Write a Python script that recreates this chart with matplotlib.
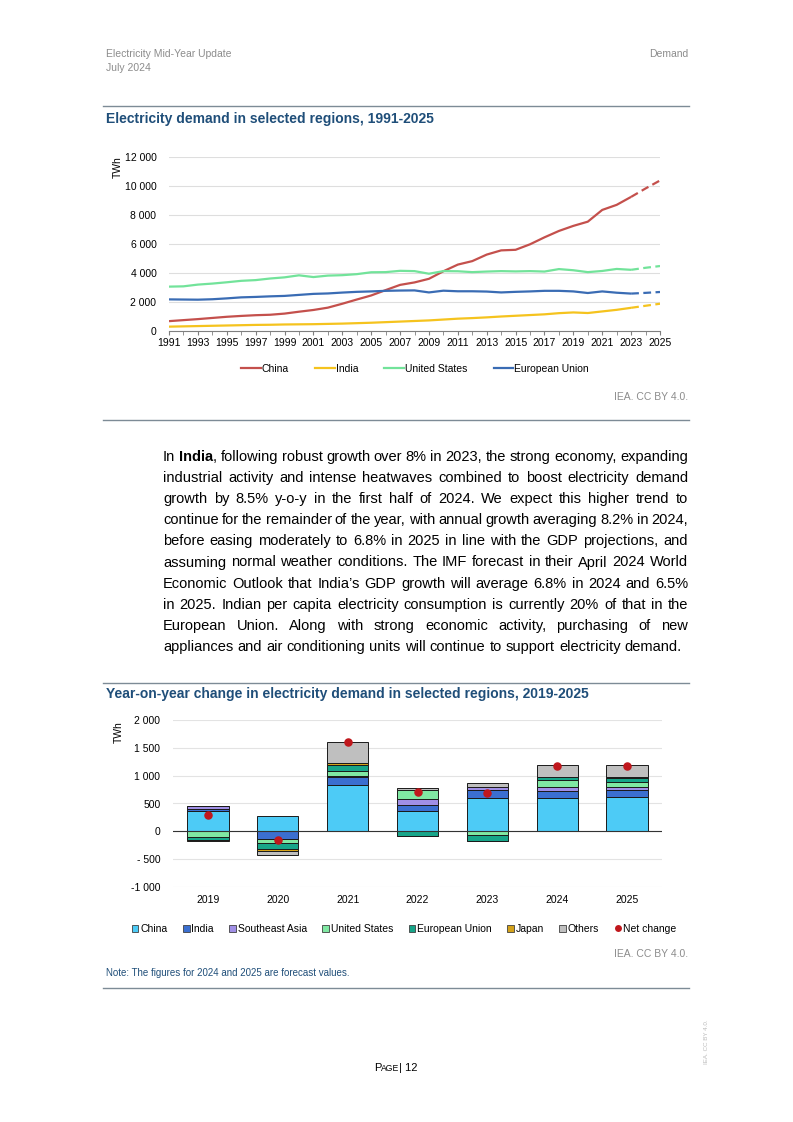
import matplotlib.pyplot as plt
from matplotlib.lines import Line2D
from matplotlib.patches import Patch
import numpy as np

plt.rcParams["font.family"] = ["Liberation Sans", "DejaVu Sans"]

W, H = 793, 1122

# --- top chart data (TWh) ---
years = list(range(1991, 2026))
china = [680, 750, 820, 900, 980, 1040, 1090, 1120, 1200, 1330,
         1450, 1610, 1880, 2170, 2450, 2820, 3180, 3350, 3600, 4120,
         4580, 4820, 5270, 5560, 5600, 5980, 6460, 6900, 7250, 7540,
         8350, 8700, 9250, 9830, 10380]
india = [300, 320, 340, 360, 380, 400, 420, 430, 450, 460,
         470, 490, 510, 540, 570, 610, 650, 690, 730, 790,
         850, 890, 940, 1000, 1050, 1100, 1150, 1230, 1280, 1240,
         1350, 1460, 1600, 1740, 1880]
united_states = [3060, 3080, 3200, 3270, 3360, 3460, 3510, 3620, 3700, 3840,
                 3720, 3820, 3850, 3920, 4050, 4060, 4150, 4130, 3950, 4130,
                 4120, 4060, 4100, 4130, 4110, 4130, 4100, 4270, 4190, 4060,
                 4140, 4280, 4220, 4360, 4480]
european_union = [2180, 2170, 2160, 2190, 2250, 2320, 2350, 2390, 2420, 2490,
                  2560, 2590, 2650, 2700, 2730, 2770, 2790, 2800, 2660, 2780,
                  2740, 2740, 2720, 2660, 2700, 2730, 2770, 2770, 2730, 2620,
                  2730, 2640, 2580, 2630, 2690]
forecast_start = 2023

# --- bottom chart data (TWh change) ---
bar_years = ["2019", "2020", "2021", "2022", "2023", "2024", "2025"]
chg_china = [360, 270, 825, 370, 600, 600, 615]
chg_india = [50, -130, 145, 105, 145, 130, 130]
chg_sea = [40, -10, 30, 110, 50, 60, 60]
chg_us = [-100, -70, 75, 160, -60, 135, 75]
chg_eu = [-50, -110, 110, -75, -110, 50, 80]
chg_japan = [-25, -30, 40, -10, -10, 10, 15]
chg_others = [10, -80, 375, 40, 70, 200, 215]
net_change = [290, -150, 1600, 715, 680, 1180, 1180]

paragraph = [
    "In **India**, following robust growth over 8% in 2023, the strong economy, expanding",
    "industrial activity and intense heatwaves combined to boost electricity demand",
    "growth by 8.5% y-o-y in the first half of 2024. We expect this higher trend to",
    "continue for the remainder of the year, with annual growth averaging 8.2% in 2024,",
    "before easing moderately to 6.8% in 2025 in line with the GDP projections, and",
    "assuming normal weather conditions. The IMF forecast in their April 2024 World",
    "Economic Outlook that India\u2019s GDP growth will average 6.8% in 2024 and 6.5%",
    "in 2025. Indian per capita electricity consumption is currently 20% of that in the",
    "European Union. Along with strong economic activity, purchasing of new",
    "appliances and air conditioning units will continue to support electricity demand.",
]

GREY = "#8c8c8c"
NAVY = "#1f4e79"
RULE = "#7d8b96"


def fx(x):
    return x / W


def fy(y):
    return 1 - y / H


def add_axes_px(fig, left, top, right, bottom):
    return fig.add_axes([fx(left), fy(bottom), (right - left) / W, (bottom - top) / H])


def rule(fig, y):
    fig.add_artist(Line2D([fx(103), fx(689)], [fy(y), fy(y)], color=RULE, lw=1.0))


def justified_text(fig, lines, x0, x1, y0, dy, size):
    renderer = fig.canvas.get_renderer()
    space = fig.text(0, 0, "a a", fontsize=size).get_window_extent(renderer).width - \
        fig.text(0, 0, "aa", fontsize=size).get_window_extent(renderer).width
    for t in list(fig.texts[-2:]):
        t.remove()
    for i, line in enumerate(lines):
        y = fy(y0 + i * dy)
        words = []
        for word in line.split(" "):
            parts = word.split("**")
            pieces = [(p, "bold" if k % 2 else "normal") for k, p in enumerate(parts) if p]
            words.append(pieces)
        items = []
        total = 0
        for pieces in words:
            arts = []
            wsum = 0
            for txt, weight in pieces:
                t = fig.text(0, y, txt, fontsize=size, fontweight=weight,
                             va="center", ha="left", color="black")
                w = t.get_window_extent(renderer).width
                arts.append((t, w))
                wsum += w
            items.append(arts)
            total += wsum
        last = i == len(lines) - 1
        gap = space if last else (x1 - x0 - total) / (len(items) - 1)
        x = x0
        for arts in items:
            for t, w in arts:
                t.set_x(fx(x))
                x += w
            x += gap


fig = plt.figure(figsize=(W / 100, H / 100), dpi=100)
fig.patch.set_facecolor("white")

# header
fig.text(fx(106), fy(54), "Electricity Mid-Year Update", fontsize=7.5, color=GREY, va="center")
fig.text(fx(106), fy(68), "July 2024", fontsize=7.5, color=GREY, va="center")
fig.text(fx(688), fy(54), "Demand", fontsize=7.5, color=GREY, va="center", ha="right")

# ---------------- top chart ----------------
rule(fig, 106)
fig.text(fx(106), fy(119), "Electricity demand in selected regions, 1991-2025",
         fontsize=10, fontweight="bold", color=NAVY, va="center")

ax1 = add_axes_px(fig, 169, 157, 660, 331)
series = [
    ("China", china, "#c4504c"),
    ("India", india, "#f5c31e"),
    ("United States", united_states, "#72e39a"),
    ("European Union", european_union, "#3a6cb4"),
]
yrs = np.array(years)
split = years.index(forecast_start)
handles = []
for name, vals, col in series:
    v = np.array(vals)
    ax1.plot(yrs[:split + 1], v[:split + 1], color=col, lw=1.6, solid_capstyle="butt")
    ax1.plot(yrs[split:], v[split:], color=col, lw=1.6, ls=(0, (3.5, 2)))
    handles.append(Line2D([0], [0], color=col, lw=1.6, label=name))

ax1.set_xlim(1991, 2025)
ax1.set_ylim(0, 12000)
ax1.set_yticks(range(0, 12001, 2000))
ax1.set_yticklabels([f"{v:,}".replace(",", " ") for v in range(0, 12001, 2000)])
ax1.set_xticks(range(1991, 2026, 2))
ax1.set_xticks(range(1991, 2026), minor=True)
ax1.grid(axis="y", color="#dedede", lw=0.8)
ax1.set_axisbelow(True)
for s in ["top", "right", "left"]:
    ax1.spines[s].set_visible(False)
ax1.spines["bottom"].set_color("#7f7f7f")
ax1.tick_params(axis="y", length=0, labelsize=7.5, pad=9)
ax1.tick_params(axis="x", which="both", length=3, color="#7f7f7f", labelsize=7.5, pad=2)
ax1.set_ylabel("TWh", fontsize=7.5)
ax1.yaxis.set_label_coords(-0.095, 0.94)

fig.legend(handles=handles, loc="center", bbox_to_anchor=(fx(415), fy(369)), ncol=4,
           frameon=False, fontsize=7.5, handlelength=1.9, handletextpad=0.1,
           columnspacing=2.5)
fig.text(fx(688), fy(397), "IEA. CC BY 4.0.", fontsize=7.5, color=GREY, va="center", ha="right")
rule(fig, 420)

# ---------------- paragraph ----------------
justified_text(fig, paragraph, 163, 688, 457, 21.1, 10.5)

# ---------------- bottom chart ----------------
rule(fig, 683)
fig.text(fx(106), fy(694), "Year-on-year change in electricity demand in selected regions, 2019-2025",
         fontsize=10, fontweight="bold", color=NAVY, va="center")

ax2 = add_axes_px(fig, 173, 720, 662, 887)
components = [
    ("China", chg_china, "#4dcbf6"),
    ("India", chg_india, "#3b6fd0"),
    ("Southeast Asia", chg_sea, "#a08fe6"),
    ("United States", chg_us, "#80e8a3"),
    ("European Union", chg_eu, "#17a589"),
    ("Japan", chg_japan, "#d4a21a"),
    ("Others", chg_others, "#bfbfbf"),
]
x = np.arange(len(bar_years))
pos_base = np.zeros(len(x))
neg_base = np.zeros(len(x))
leg2 = []
for name, vals, col in components:
    v = np.array(vals, dtype=float)
    base = np.where(v >= 0, pos_base, neg_base)
    ax2.bar(x, v, 0.59, bottom=base, color=col, edgecolor="#1a1a1a", linewidth=0.7, zorder=3)
    pos_base += np.clip(v, 0, None)
    neg_base += np.clip(v, None, 0)
    leg2.append(Patch(facecolor=col, edgecolor="#404040", linewidth=0.6, label=name))
ax2.scatter(x, net_change, s=26, color="#c0171c", zorder=5)
leg2.append(Line2D([0], [0], marker="o", color="none", markerfacecolor="#c0171c",
                   markeredgecolor="none", markersize=5, label="Net change"))

ax2.axhline(0, color="#333333", lw=0.8, zorder=4)
ax2.set_xlim(-0.5, 6.5)
ax2.set_ylim(-1000, 2000)
ticks = list(range(-1000, 2001, 500))
ax2.set_yticks(ticks)
ax2.set_yticklabels([("- " if v < 0 and v > -1000 else "") +
                     f"{abs(v) if -1000 < v < 0 else v:,}".replace(",", " ") for v in ticks])
ax2.set_xticks(x)
ax2.set_xticklabels(bar_years)
ax2.grid(axis="y", color="#e3e3e3", lw=0.8)
ax2.set_axisbelow(True)
for s in ax2.spines.values():
    s.set_visible(False)
ax2.tick_params(axis="both", length=0, labelsize=7.5)
ax2.tick_params(axis="y", pad=9)
ax2.tick_params(axis="x", pad=6)
ax2.set_ylabel("TWh", fontsize=7.5)
ax2.yaxis.set_label_coords(-0.1, 0.93)

fig.legend(handles=leg2, loc="center", bbox_to_anchor=(fx(404), fy(929)), ncol=8,
           frameon=False, fontsize=7.5, handlelength=0.65, handleheight=0.65,
           handletextpad=0.15, columnspacing=1.5)
fig.text(fx(688), fy(954), "IEA. CC BY 4.0.", fontsize=7.5, color=GREY, va="center", ha="right")
fig.text(fx(106), fy(973), "Note: The figures for 2024 and 2025 are forecast values.",
         fontsize=7, color=NAVY, va="center")
rule(fig, 988)

# footer
fig.text(fx(374), fy(1068), "P", fontsize=8, va="center", ha="left")
fig.text(fx(381), fy(1068.6), "AGE", fontsize=6.2, va="center", ha="left")
fig.text(fx(399), fy(1068), "| 12", fontsize=8, va="center", ha="left")
fig.text(fx(707), fy(1042), "IEA. CC BY 4.0.", fontsize=4.5, color="#bbbbbb",
         rotation=90, va="center", ha="center")

fig.savefig("out.png", dpi=100, facecolor="white")
